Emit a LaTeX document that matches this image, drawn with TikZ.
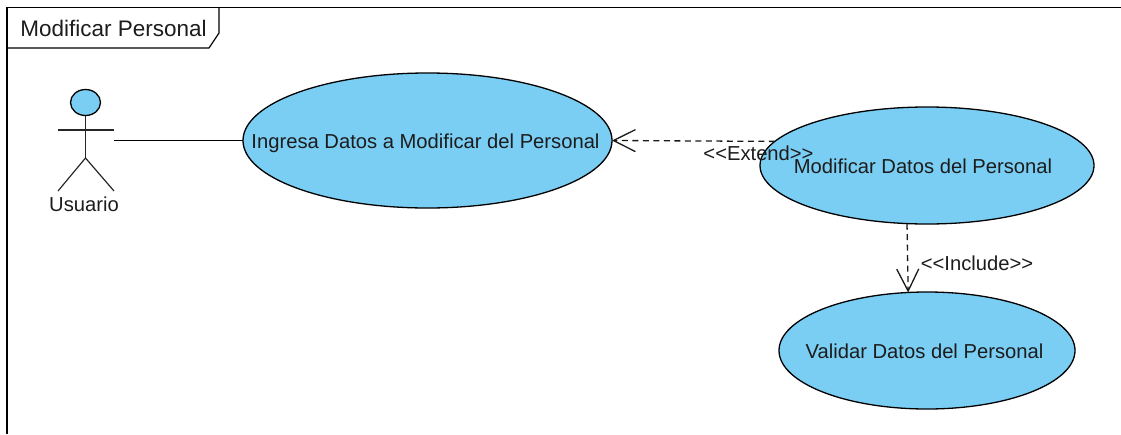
\documentclass[tikz,border=0pt]{standalone}
\usepackage{fontspec}
\setmainfont{Liberation Sans}
\usetikzlibrary{shapes.geometric,arrows.meta}
\definecolor{usecasefill}{HTML}{7ACEF4}
\definecolor{inktext}{HTML}{1C1C1C}
% texto sin medida: la elipse conserva su tamaño
\newcommand{\uctext}[2][0pt]{\smash{\raisebox{-7.5pt}{\makebox[0pt]{\kern#1 #2}}}}
\begin{document}
\begin{tikzpicture}[
        x=1pt,y=-1pt,
        % casos de uso
        usecase/.style={
            ellipse,
            draw=black,
            fill=usecasefill,
            line width=1.3pt,
            inner sep=0pt,
            outer sep=0pt,
            text=inktext,
            font=\fontsize{20.2}{24}\selectfont
        },
        % actor
        limb/.style={draw=black!85, line width=1.2pt},
        % dependencias punteadas
        depend/.style={
            draw=black!90,
            line width=1.3pt,
            dash pattern=on 6pt off 4.5pt,
            -{Straight Barb[length=22pt,width=22pt,line width=1.3pt]}
        },
        % textos sueltos
        label_text/.style={
            inner sep=0pt,
            text=inktext,
            font=\fontsize{20.2}{24}\selectfont
        }
    ]
    \useasboundingbox (0,0) rectangle (1121,434);

    % --- marco ---
    \coordinate (frameTL) at (7,7.5);
    \coordinate (frameTR) at (1121,7.5);
    \coordinate (frameBL) at (7,434);
    \draw[line width=1.4pt] (frameBL) -- (frameTL) -- (frameTR);
    \draw[line width=1.2pt] (219,7.5) -- (219,33) -- (209,48) -- (7,48);
    \node[label_text, font=\fontsize{22.5}{26}\selectfont] (title) at (113.5,28) {Modificar Personal};

    % --- actor ---
    \node[ellipse, draw=black, fill=usecasefill, line width=1.3pt, inner sep=0pt, outer sep=0pt,
        minimum width=30pt, minimum height=26pt] (head) at (85.5,102.5) {};
    \coordinate (hip) at (85.5,158);
    \coordinate (armL) at (58,130);
    \coordinate (armR) at (114,130);
    \coordinate (legL) at (58,191);
    \coordinate (legR) at (114,191);
    \coordinate (actorPort) at (114,140.5);
    \draw[limb] (head.south) -- (hip);
    \draw[limb] (armL) -- (armR);
    \draw[limb] (legL) -- (hip) -- (legR);
    \node[label_text] (usuario) at (84,204) {Usuario};

    % --- casos de uso ---
    \node[usecase, minimum width=369pt, minimum height=135pt] (ingresa) at (427.5,140.5)
        {\uctext[-4pt]{Ingresa Datos a Modificar del Personal}};
    \node[usecase, minimum width=334pt, minimum height=117pt] (modificar) at (927,165.5)
        {\uctext[-8pt]{Modificar Datos del Personal}};
    \node[usecase, minimum width=296pt, minimum height=117pt] (validar) at (927,350.5)
        {\uctext[-5pt]{Validar Datos del Personal}};

    % --- conexiones ---
    \draw[line width=1.2pt] (actorPort) -- (ingresa.west);
    \draw[depend] (modificar.171) -- (ingresa.east);
    \draw[depend] (modificar.251.9) -- (validar.108.1);

    \node[label_text] (extend) at (758.5,153) {<{}<Extend>{}>};
    \node[label_text] (include) at (977,263) {<{}<Include>{}>};
\end{tikzpicture}
\end{document}
